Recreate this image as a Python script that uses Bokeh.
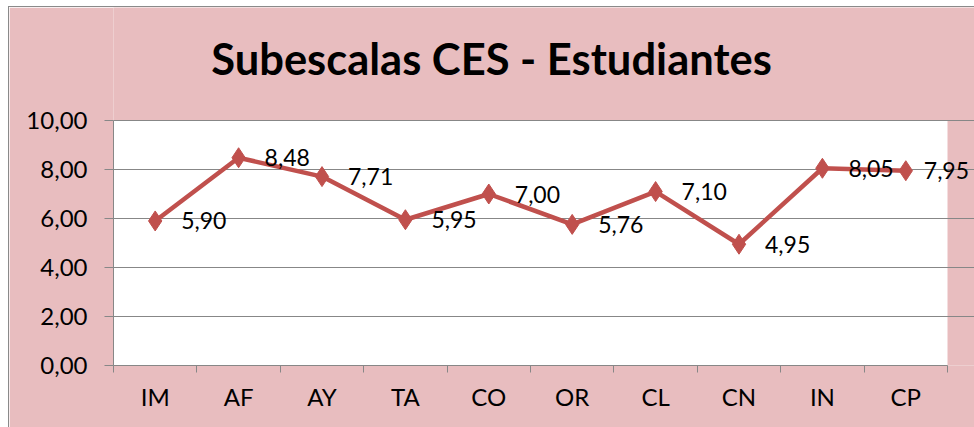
from bokeh.plotting import figure
from bokeh.models import ColumnDataSource, Label, FixedTicker, Range1d
from bokeh.embed import file_html
from bokeh.resources import INLINE
import numpy as np

categories = ["IM", "AF", "AY", "TA", "CO", "OR", "CL", "CN", "IN", "CP"]
values = [5.90, 8.48, 7.71, 5.95, 7.00, 5.76, 7.10, 4.95, 8.05, 7.95]
y_ticks = [0, 2, 4, 6, 8, 10]
y_tick_labels = ["0,00", "2,00", "4,00", "6,00", "8,00", "10,00"]
title_text = "Subescalas CES - Estudiantes"

FONT = "Lato"
PINK = "#E8BDBF"
GRID = "#878787"
RED = "#C0504D"

n = len(categories)
ymax = 10
xs = np.arange(n) + 0.5
src = ColumnDataSource(dict(x=xs, y=values))

# layout (canvas pixels)
W, H = 965, 420
LEFT, BOTTOM = 104, 62
PLOT_W, PLOT_H = 834, 245      # white plotting area
FRAME_W, FRAME_H = W - LEFT, H - BOTTOM
x_end = n * FRAME_W / PLOT_W
y_end = ymax * FRAME_H / PLOT_H
px_x = PLOT_W / n
px_y = PLOT_H / ymax
TITLE_CX, TITLE_BASE = 482, 50   # title centre / baseline in canvas px

p = figure(width=W, height=H, output_backend="svg", toolbar_location=None,
           x_range=Range1d(0, x_end), y_range=Range1d(0, y_end),
           min_border_left=LEFT, min_border_right=0, min_border_top=0, min_border_bottom=BOTTOM)
p.margin = (7, 0, 0, 9)
p.styles = {"outline": "1px solid #8a8a8a"}

p.background_fill_color = PINK
p.border_fill_color = PINK
p.outline_line_color = None

# white plotting area
p.quad(left=[0], right=[n], bottom=[0], top=[ymax], fill_color="white", line_color=None, level="image")

# title
p.add_layout(Label(x=(TITLE_CX - LEFT) / px_x, y=(FRAME_H - TITLE_BASE) / px_y, text=title_text,
                   text_align="center", text_baseline="alphabetic", text_font=FONT,
                   text_font_style="bold", text_font_size="43.5px", text_color="black"))

# y axis
p.yaxis.ticker = FixedTicker(ticks=y_ticks)
p.yaxis.major_label_overrides = {t: l for t, l in zip(y_ticks, y_tick_labels)}
p.yaxis.bounds = (0, ymax)
p.yaxis.major_tick_out = 9
p.yaxis.major_tick_in = 0
p.yaxis.minor_tick_line_color = None
p.yaxis.axis_line_color = GRID
p.yaxis.major_tick_line_color = GRID
p.yaxis.major_label_text_font = FONT
p.yaxis.major_label_text_font_size = "24px"
p.yaxis.major_label_text_color = "black"
p.yaxis.major_label_standoff = 17

# x axis: labels at centers, ticks at boundaries (minor)
p.xaxis.ticker = FixedTicker(ticks=list(xs), minor_ticks=list(range(n + 1)))
p.xaxis.major_label_overrides = {float(x): c for x, c in zip(xs, categories)}
p.xaxis.bounds = (0, n)
p.xaxis.major_tick_out = 0
p.xaxis.major_tick_in = 0
p.xaxis.minor_tick_out = 7
p.xaxis.minor_tick_in = 0
p.xaxis.minor_tick_line_color = GRID
p.xaxis.axis_line_color = GRID
p.xaxis.major_label_text_font = FONT
p.xaxis.major_label_text_font_size = "24px"
p.xaxis.major_label_text_color = "black"
p.xaxis.major_label_standoff = 9

p.xgrid.grid_line_color = None
p.ygrid.grid_line_color = GRID
p.ygrid.ticker = FixedTicker(ticks=y_ticks)
p.ygrid.bounds = (0, n)

p.line("x", "y", source=src, line_color=RED, line_width=4.5)
p.scatter("x", "y", source=src, marker="diamond", size=20, fill_color=RED, line_color=RED)

for i, (xv, yv) in enumerate(zip(xs, values)):
    off = 18 if i == n - 1 else 26   # last label nudged left to stay inside the chart
    p.add_layout(Label(x=float(xv), y=yv, text=f"{yv:.2f}".replace(".", ","),
                       x_offset=off, y_offset=0, text_baseline="middle", text_align="left",
                       text_font=FONT, text_font_size="23px", text_color="black"))

open("out.html", "w").write(file_html(p, INLINE))
